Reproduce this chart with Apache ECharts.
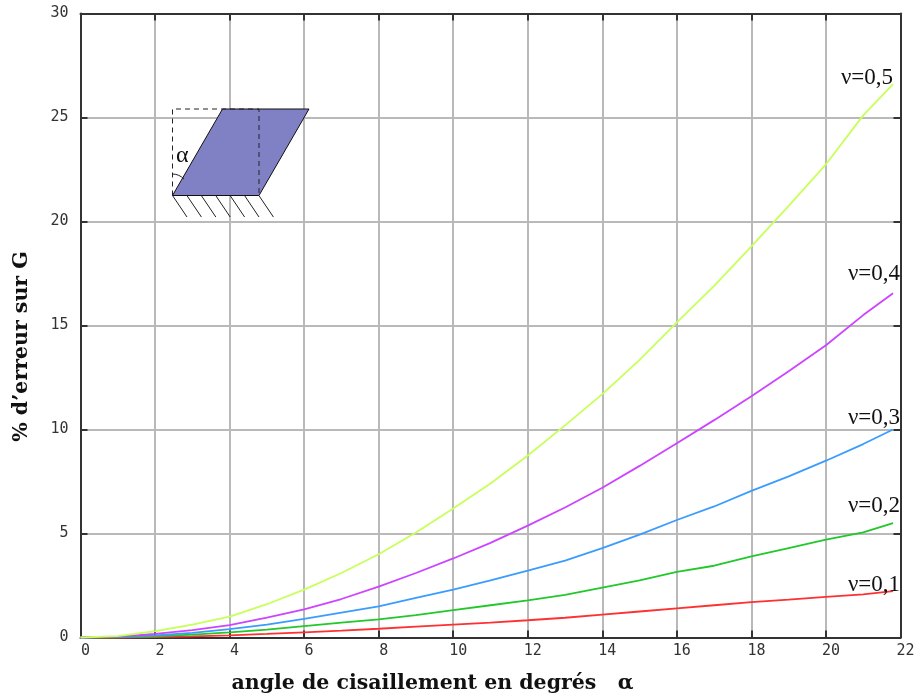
<!DOCTYPE html>
<html><head><meta charset="utf-8">
<style>html,body{margin:0;padding:0;background:#fff}#c{width:915px;height:693px}</style>
<script src="https://cdn.jsdelivr.net/npm/echarts@6/dist/echarts.min.js"></script>
</head><body><div id="c"></div>
<script>
const angles = [0,1,2,3,4,5,6,7,8,9,10,11,12,13,14,15,16,17,18,19,20,21,21.8];
const nu05 = [0,0.07,0.3,0.62,1.0,1.6,2.3,3.1,4.0,5.05,6.2,7.4,8.75,10.2,11.7,13.35,15.15,16.9,18.8,20.75,22.75,25.1,26.6];
const nu04 = [0,0.04,0.17,0.35,0.6,0.95,1.35,1.85,2.45,3.1,3.8,4.55,5.38,6.25,7.2,8.25,9.34,10.45,11.6,12.8,14.05,15.5,16.55];
const nu03 = [0,0.03,0.1,0.22,0.4,0.62,0.9,1.2,1.5,1.9,2.3,2.75,3.22,3.7,4.3,4.95,5.65,6.3,7.05,7.75,8.5,9.3,10.0];
const nu02 = [0,0.01,0.06,0.14,0.25,0.38,0.55,0.72,0.87,1.08,1.32,1.55,1.78,2.05,2.4,2.75,3.15,3.45,3.9,4.3,4.7,5.05,5.5];
const nu01 = [0,0,0.02,0.05,0.1,0.17,0.25,0.33,0.42,0.52,0.62,0.72,0.83,0.95,1.1,1.25,1.4,1.55,1.7,1.82,1.95,2.07,2.23];
const xTicks = {min:0,max:22,interval:2};
const yTicks = {min:0,max:30,interval:5};
const curves = [
  {name:'ν=0,1',values:nu01,color:'#ff3030',offset:[-1,-6]},
  {name:'ν=0,2',values:nu02,color:'#22c82a',offset:[-1,-17]},
  {name:'ν=0,3',values:nu03,color:'#3a9cff',offset:[-1,-12]},
  {name:'ν=0,4',values:nu04,color:'#cc44ff',offset:[-1,-19]},
  {name:'ν=0,5',values:nu05,color:'#c8ff5a',offset:[-8,-6]}
];
const chart = echarts.init(document.getElementById('c'),null,{renderer:'canvas'});
const tickFont = {fontFamily:'DejaVu Sans Mono',fontSize:15,color:'#333'};
const axisLine = {show:true,onZero:false,lineStyle:{color:'#333',width:2}};
const mainTick = {show:true,inside:true,length:7,lineStyle:{color:'#333',width:2}};
const grid = {show:true,lineStyle:{color:'#b9b9b9',width:2}};
const hatch = [0,1,2,3,4,5,6].map(i=>({type:'line',z:50,shape:{x1:172.5+i*14.4,y1:195.5,x2:187+i*14.4,y2:217},style:{stroke:'#222',lineWidth:1}}));
chart.setOption({
  animation:false,
  backgroundColor:'#fff',
  grid:{left:80.5,right:14.5,top:13.5,bottom:55.5,outerBoundsMode:'none'},
  xAxis:[
    {type:'value',...xTicks,position:'bottom',axisLine,axisTick:mainTick,splitLine:grid,
     axisLabel:{...tickFont,margin:6,padding:[0,0,0,10]},
     name:'angle de cisaillement en degrés   α',nameLocation:'middle',nameGap:36,
     nameTextStyle:{fontFamily:'DejaVu Serif',fontWeight:'bold',fontSize:20.5,color:'#111',padding:[0,116,0,0]}},
    {type:'value',...xTicks,position:'top',axisLine,axisTick:mainTick,splitLine:{show:false},axisLabel:{show:false}}
  ],
  yAxis:[
    {type:'value',...yTicks,position:'left',axisLine,axisTick:mainTick,splitLine:grid,
     axisLabel:{...tickFont,margin:12},
     name:"% d’erreur sur G",nameLocation:'middle',nameGap:48,
     nameTextStyle:{fontFamily:'DejaVu Serif',fontWeight:'bold',fontSize:20.5,color:'#111',padding:[0,42,0,0]}},
    {type:'value',...yTicks,position:'right',axisLine,axisTick:mainTick,splitLine:{show:false},axisLabel:{show:false}}
  ],
  series:curves.map(c=>({
    name:c.name,type:'line',showSymbol:false,symbol:'none',
    data:angles.map((a,i)=>[a,c.values[i]]),
    lineStyle:{color:c.color,width:1.8},
    clip:false,
    endLabel:{show:true,formatter:c.name,align:'right',verticalAlign:'middle',offset:c.offset,
      fontFamily:'Liberation Serif',fontSize:23,color:'#111'}
  })),
  graphic:[
    {type:'polygon',z:50,silent:true,shape:{points:[[172.5,195.5],[259,195.5],[309,109],[222.5,109]]},style:{fill:'#8080c4',stroke:'#111',lineWidth:1}},
    {type:'polyline',z:51,silent:true,shape:{points:[[172.5,195.5],[172.5,109],[259,109],[259,195.5]]},style:{fill:null,stroke:'#222',lineWidth:1,lineDash:[5,4]}},
    ...hatch,
    {type:'bezierCurve',z:51,silent:true,shape:{x1:172.5,y1:174,cpx1:177,cpy1:174,cpx2:181,cpy2:176,x2:184,y2:179},style:{fill:null,stroke:'#222',lineWidth:1}},
    {type:'text',z:51,silent:true,style:{text:'α',x:176,y:144,fontFamily:'Liberation Serif',fontSize:24,fill:'#111'}}
  ]
});
</script></body></html>
